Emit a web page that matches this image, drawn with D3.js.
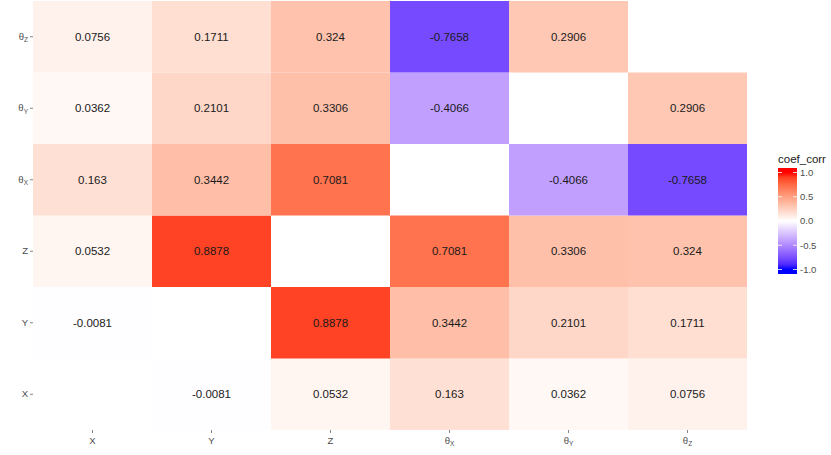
<!DOCTYPE html>
<html>
<head>
<meta charset="utf-8">
<script src="https://cdn.jsdelivr.net/npm/d3@7"></script>
<style>
  body { margin: 0; background: #fff; }
  text { font-family: "Liberation Sans", Arial, sans-serif; }
</style>
</head>
<body>
<div id="chart"></div>
<script>
// variables, bottom to top on the y axis, left to right on x
var vars = ["X", "Y", "Z", "θX", "θY", "θZ"];
var varBase = ["X", "Y", "Z", "θ", "θ", "θ"];
var varSub = ["", "", "", "X", "Y", "Z"];

// one row per y variable, values in x order (null = diagonal)
var rowX  = [null, -0.0081, 0.0532, 0.163, 0.0362, 0.0756];
var rowY  = [-0.0081, null, 0.8878, 0.3442, 0.2101, 0.1711];
var rowZ  = [0.0532, 0.8878, null, 0.7081, 0.3306, 0.324];
var rowTX = [0.163, 0.3442, 0.7081, null, -0.4066, -0.7658];
var rowTY = [0.0362, 0.2101, 0.3306, -0.4066, null, 0.2906];
var rowTZ = [0.0756, 0.1711, 0.324, -0.7658, 0.2906, null];

var legendTicks = [1.0, 0.5, 0.0, -0.5, -1.0];

var rows = [rowX, rowY, rowZ, rowTX, rowTY, rowTZ];
var cells = [];
rows.forEach(function (r, i) {
  r.forEach(function (v, j) {
    if (v !== null) { cells.push({ x: vars[j], y: vars[i], v: v }); }
  });
});

var W = 831, H = 455;
var margin = { top: 1, right: 84, bottom: 25, left: 33 };
var width = 747 - margin.left, height = 430 - margin.top;

var svg = d3.select("#chart").append("svg")
  .attr("width", W).attr("height", H);
var g = svg.append("g")
  .attr("transform", "translate(" + margin.left + "," + margin.top + ")");

var x = d3.scaleBand().domain(vars).range([0, width]);
var y = d3.scaleBand().domain(vars).range([height, 0]);
var color = d3.scaleLinear().domain([-1, 0, 1])
  .range(["blue", "white", "red"]).interpolate(d3.interpolateLab);

g.selectAll("rect.tile")
  .data(cells)
  .enter()
  .append("rect")
  .attr("class", "tile")
  .attr("x", function (d) { return x(d.x); })
  .attr("y", function (d) { return y(d.y); })
  .attr("width", x.bandwidth())
  .attr("height", y.bandwidth())
  .attr("fill", function (d) { return color(d.v); });

g.selectAll("text.val")
  .data(cells)
  .enter()
  .append("text")
  .attr("class", "val")
  .attr("x", function (d) { return x(d.x) + x.bandwidth() / 2; })
  .attr("y", function (d) { return y(d.y) + y.bandwidth() / 2; })
  .attr("dy", "0.35em")
  .attr("text-anchor", "middle")
  .attr("font-size", "11.5px")
  .attr("fill", "#1a1a1a")
  .text(function (d) { return String(d.v); });

var labelFor = function (sel) {
  sel.each(function (d) {
    var i = vars.indexOf(d);
    var t = d3.select(this).text(null);
    t.append("tspan").text(varBase[i]);
    if (varSub[i]) {
      t.append("tspan").attr("font-size", "6.5px").attr("dy", "2.5").text(varSub[i]);
    }
  });
};

// x axis
var xAxis = d3.axisBottom(x).tickSize(3).tickPadding(4);
var gx = g.append("g").attr("transform", "translate(0," + height + ")").call(xAxis);
gx.select(".domain").remove();
gx.selectAll("line").attr("stroke", "#333").attr("stroke-width", 0.6);
gx.selectAll("text").attr("font-size", "9.5px").attr("fill", "#4d4d4d")
  .attr("font-family", "Liberation Sans, Arial, sans-serif").call(labelFor);

// y axis
var yAxis = d3.axisLeft(y).tickSize(3).tickPadding(2);
var gy = g.append("g").call(yAxis);
gy.select(".domain").remove();
gy.selectAll("line").attr("stroke", "#333").attr("stroke-width", 0.6);
gy.selectAll("text").attr("font-size", "9.5px").attr("fill", "#4d4d4d")
  .attr("font-family", "Liberation Sans, Arial, sans-serif").call(labelFor);

// legend
var lg = svg.append("g").attr("transform", "translate(778,0)");
lg.append("text").attr("x", 0).attr("y", 163)
  .attr("font-size", "11.5px").attr("fill", "#1a1a1a").text("coef_corr");

var barTop = 168, barBottom = 274, barW = 19;
var ly = d3.scaleLinear().domain([-1, 1]).range([269.5, 172.5]);
var defs = svg.append("defs");
var grad = defs.append("linearGradient").attr("id", "cbar")
  .attr("x1", 0).attr("y1", 1).attr("x2", 0).attr("y2", 0);
d3.range(-1, 1.001, 0.1).forEach(function (v) {
  grad.append("stop")
    .attr("offset", ((ly(v) - barBottom) / (barTop - barBottom)))
    .attr("stop-color", color(v));
});
lg.append("rect").attr("x", 0).attr("y", barTop)
  .attr("width", barW).attr("height", barBottom - barTop)
  .attr("fill", "url(#cbar)");

legendTicks.forEach(function (v) {
  lg.append("line").attr("x1", 0).attr("x2", 4)
    .attr("y1", ly(v)).attr("y2", ly(v)).attr("stroke", "#fff").attr("stroke-width", 0.8);
  lg.append("line").attr("x1", barW - 4).attr("x2", barW)
    .attr("y1", ly(v)).attr("y2", ly(v)).attr("stroke", "#fff").attr("stroke-width", 0.8);
  lg.append("text").attr("x", barW + 3).attr("y", ly(v)).attr("dy", "0.35em")
    .attr("font-size", "9.5px").attr("fill", "#4d4d4d").text(v.toFixed(1));
});
</script>
</body>
</html>
